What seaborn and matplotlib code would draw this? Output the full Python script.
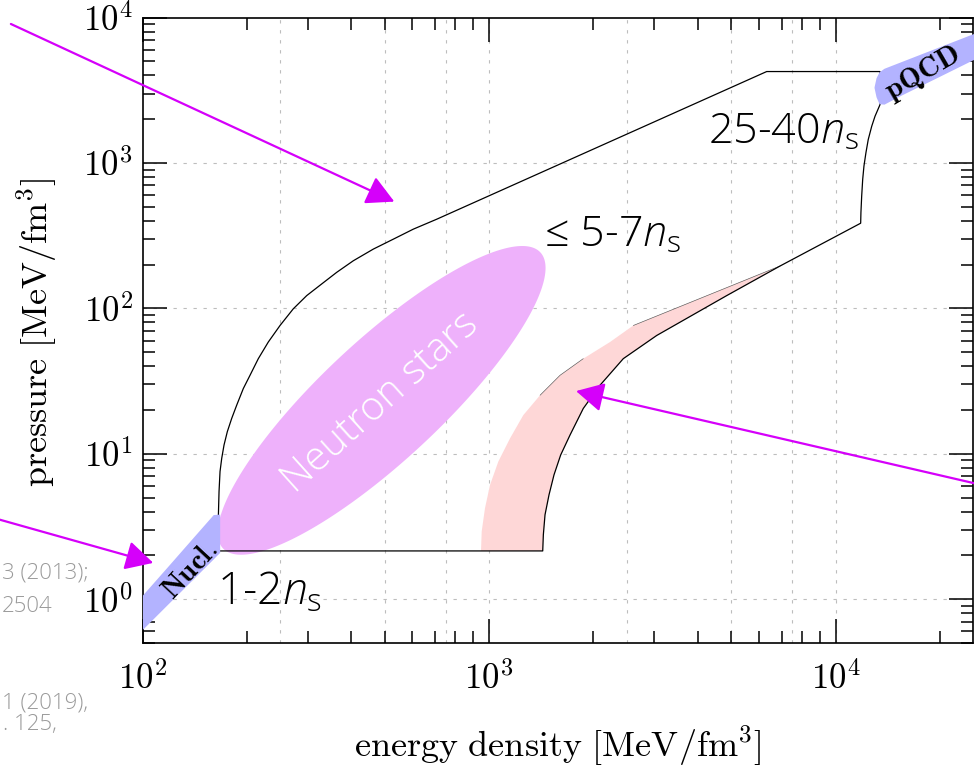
import numpy as np
import matplotlib
matplotlib.use("Agg")
import matplotlib.pyplot as plt
import seaborn as sns
from matplotlib.ticker import NullFormatter, LogLocator

# ---------------- data ----------------
# allowed-EOS envelope (closed outline)
env_eps = [166.3, 165.5, 166.3, 167.4, 169.3, 171.9, 175.7, 180.9, 187.0, 195.4,
           204.3, 215.9, 230.7, 249.4, 272.3, 297.8, 329.0, 363.6, 405.9, 463.6,
           529.6, 604.6, 706.5, 6330, 13440, 13440, 13000, 12720, 12430, 12240,
           12080, 11980, 11900, 11840, 11820,
           6916, 4853, 3048, 2441, 2091, 1871, 1713, 1610, 1540, 1490, 1451,
           1435, 1429, 166.3]
env_p = [2.148, 3.615, 5.510, 7.553, 9.316, 11.49, 14.19, 17.51, 21.59, 28.09,
         34.65, 45.10, 58.68, 76.24, 99.22, 122.4, 147.2, 177.0, 212.5, 255.6,
         299.2, 350.4, 410.2, 4250, 4250, 2516, 2092, 1787, 1449, 1175,
         951, 771, 592.5, 456, 385.1,
         195.5, 122.4, 65.1, 45.1, 29.6, 20.5, 13.45, 9.813, 7.157, 5.222, 3.809,
         2.778, 2.148, 2.148]

# pink band (left/upper edge and right/lower edge)
pink_left_eps = [948.3, 952.7, 973.8, 1007, 1064, 1150, 1256, 1404, 1603, 1871,
                 2235, 2609, 6916]
pink_left_p = [2.148, 2.931, 4.233, 6.113, 8.845, 12.77, 18.44, 25.27, 34.65, 45.10,
               58.68, 76.24, 195.5]
pink_right_eps = [1429, 1435, 1451, 1490, 1540, 1610, 1713, 1871, 2091, 2441,
                  3048, 4853, 6916]
pink_right_p = [2.148, 2.778, 3.809, 5.222, 7.157, 9.813, 13.45, 20.5, 29.6, 45.1,
                65.1, 122.4, 195.5]

# nuclear (low density) band
nucl_eps = [85, 100, 120, 140, 160, 167]
nucl_lo = [0.422, 0.621, 0.958, 1.38, 1.895, 2.10]
nucl_hi = [0.688, 1.069, 1.75, 2.66, 3.82, 3.85]

# pQCD band
pqcd_eps = [12920, 13090, 13350, 13800, 15350, 20030, 26130]
pqcd_lo = [3290, 2850, 2555, 2536, 2900, 3960, 5420]
pqcd_hi = [3340, 3850, 4230, 4475, 4940, 6320, 8080]

# neutron-star region (ellipse centre)
ns_center = (490, 23.3)

# grid lines
grid_x = [250, 500, 750, 1000, 2500, 5000, 7500, 10000, 25000]
grid_y = [1, 10, 100, 1000]

x_ticks = [1e2, 1e3, 1e4]
x_ticklabels = [r"$10^{2}$", r"$10^{3}$", r"$10^{4}$"]
y_ticks = [1e0, 1e1, 1e2, 1e3, 1e4]
y_ticklabels = [r"$10^{0}$", r"$10^{1}$", r"$10^{2}$", r"$10^{3}$", r"$10^{4}$"]

# reference fragments visible at the left edge
ref_texts = ["3 (2013);", "2504", "1 (2019),", ". 125,"]

# arrows: (tail, tip) in data coords
arrow_tails = [(41.7, 9026), (36.3, 3.68), (27010, 6.03)]
arrow_tips = [(533, 542), (107.4, 1.778), (1783, 27.0)]

# ---------------- style ----------------
sns.set_theme(style="ticks")
plt.rcParams["font.family"] = ["Open Sans", "DejaVu Sans"]
plt.rcParams["font.weight"] = "light"
plt.rcParams["text.color"] = "black"
plt.rcParams["mathtext.fontset"] = "cm"
plt.rcParams["mathtext.rm"] = "Open Sans:light"
plt.rcParams["mathtext.it"] = "Open Sans:light:italic"

MAGENTA = "#D500FA"
NS_COL = "#EEB1FB"
PINK = "#FED7D7"
BLUE = "#B3B3FF"

fig = plt.figure(figsize=(9.74, 7.68), dpi=100, facecolor="white")
ax = fig.add_axes([142.5 / 974, 1 - 643 / 768, 830.9 / 974, 625.5 / 768])
ax.set_xscale("log")
ax.set_yscale("log")
ax.set_xlim(100, 25000)
ax.set_ylim(0.5, 1e4)

for gx in grid_x:
    ax.axvline(gx, color="#BDBDBD", lw=0.8, dashes=(3, 6), zorder=0)
for gy in grid_y:
    ax.axhline(gy, color="#BDBDBD", lw=0.8, dashes=(3, 6), zorder=0)

# pink band
ax.fill(pink_left_eps + pink_right_eps[::-1], pink_left_p + pink_right_p[::-1],
        color=PINK, lw=0, zorder=2)
ax.plot(pink_left_eps[7:10], pink_left_p[7:10], color="#555555", lw=0.45, zorder=2.5)
ax.plot(pink_left_eps[11:], pink_left_p[11:], color="#555555", lw=0.45, zorder=2.5)

# neutron star ellipse (drawn in display space)
c = ax.transData.transform(ns_center)
t = np.linspace(0, 2 * np.pi, 300)
a_px, b_px, th = 217, 60, np.deg2rad(43)
ex = c[0] + a_px * np.cos(t) * np.cos(th) - b_px * np.sin(t) * np.sin(th)
ey = c[1] + a_px * np.cos(t) * np.sin(th) + b_px * np.sin(t) * np.cos(th)
pts = ax.transData.inverted().transform(np.column_stack([ex, ey]))
ax.fill(pts[:, 0], pts[:, 1], color=NS_COL, lw=0, zorder=2)

# envelope
sns.lineplot(x=env_eps, y=env_p, sort=False, estimator=None, color="black",
             lw=0.9, ax=ax, zorder=3)

# nuclear and pQCD bands
ax.fill_between(nucl_eps, nucl_lo, nucl_hi, color=BLUE, lw=0, zorder=4)
ax.fill_between(pqcd_eps, pqcd_lo, pqcd_hi, color=BLUE, lw=0, zorder=4)

# texts
ax.text(137.1, 1.567, r"$\mathbf{Nucl.}$", rotation=47, ha="center", va="center",
        rotation_mode="anchor", fontsize=21, zorder=6, color="black")
ax.text(17850, 4147, r"$\mathbf{pQCD}$", rotation=30, ha="center", va="center",
        rotation_mode="anchor", fontsize=21, zorder=6, color="black")
ax.text(488, 22.5, "Neutron stars", rotation=42, ha="center", va="center",
        rotation_mode="anchor", fontsize=29, color="white", zorder=6)

lab_kw = dict(ha="left", va="baseline", fontsize=31, color="black",
              math_fontfamily="custom", zorder=6)
ax.text(4285, 1360, r"25-40$n_{\mathrm{s}}$", **lab_kw)
ax.text(1441, 269.2, "\u2264 5-7" + r"$n_{\mathrm{s}}$", **lab_kw)
ax.text(163.7, 0.921, r"1-2$n_{\mathrm{s}}$", **dict(lab_kw, fontsize=32))

# arrows
for tail, tip in zip(arrow_tails, arrow_tips):
    ax.annotate("", xy=tip, xytext=tail, xycoords="data", textcoords="data",
                annotation_clip=False,
                arrowprops=dict(arrowstyle="-|>,head_length=1.7,head_width=0.9",
                                mutation_scale=10, lw=1.6, color=MAGENTA,
                                shrinkA=0, shrinkB=0), zorder=7)

# reference fragments on the left
ref_kw = dict(ha="left", va="baseline", fontsize=16, color="#9A9A9A")
for txt, (rx, ry) in zip(ref_texts, [(2, 578), (2, 612), (2, 708), (3, 730)]):
    fig.text(rx / 974, 1 - ry / 768, txt, **ref_kw)

# axes, ticks
ax.set_xticks(x_ticks)
ax.set_xticklabels(x_ticklabels, fontsize=25)
ax.set_yticks(y_ticks)
ax.set_yticklabels(y_ticklabels, fontsize=25)
ax.xaxis.set_minor_locator(LogLocator(base=10, subs=np.arange(2, 10)))
ax.yaxis.set_minor_locator(LogLocator(base=10, subs=np.arange(2, 10)))
ax.xaxis.set_minor_formatter(NullFormatter())
ax.yaxis.set_minor_formatter(NullFormatter())
ax.tick_params(which="both", direction="in", top=True, right=True,
               colors="black", width=1.1)
ax.tick_params(which="major", length=17)
ax.tick_params(which="minor", length=8.5)
ax.tick_params(axis="x", which="major", pad=14)
ax.tick_params(axis="y", which="major", pad=7)
for sp in ax.spines.values():
    sp.set_color("black")
    sp.set_linewidth(1.2)

ax.set_xlabel(r"$\mathrm{energy\ density}\ [\mathrm{MeV}/\mathrm{fm}^3]$", fontsize=26,
              va="center", color="black")
ax.set_ylabel(r"$\mathrm{pressure}\ [\mathrm{MeV}/\mathrm{fm}^3]$", fontsize=26,
              va="center", color="black")
ax.xaxis.set_label_coords(0.5, -(746 - 643) / 625.5)
ax.yaxis.set_label_coords((36.7 - 142.5) / 830.9, (643 - 332.5) / 625.5)
ax.set_facecolor("white")

fig.savefig("out.png", dpi=100, facecolor="white")
